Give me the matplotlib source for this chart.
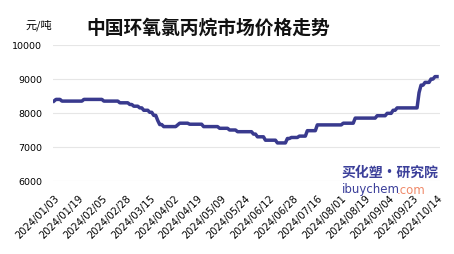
import numpy as np
import matplotlib.pyplot as plt
from matplotlib.text import Annotation

plt.rcParams['font.family'] = ['Noto Sans CJK SC', 'DejaVu Sans']

# daily price, yuan/ton
prices = [
    8350, 8400, 8400, 8400, 8350, 8350, 8350, 8350, 8350, 8350,
    8350, 8350, 8350, 8350, 8350, 8400, 8400, 8400, 8400, 8400,
    8400, 8400, 8400, 8400, 8400, 8350, 8350, 8350, 8350, 8350,
    8350, 8350, 8350, 8300, 8300, 8300, 8300, 8300, 8250, 8250,
    8200, 8200, 8200, 8150, 8150, 8080, 8080, 8080, 8020, 8020,
    7930, 7930, 7780, 7660, 7660, 7600, 7600, 7600, 7600, 7600,
    7600, 7600, 7650, 7700, 7700, 7700, 7700, 7700, 7670, 7670,
    7670, 7670, 7670, 7670, 7670, 7600, 7600, 7600, 7600, 7600,
    7600, 7600, 7600, 7550, 7550, 7550, 7550, 7550, 7500, 7500,
    7500, 7500, 7450, 7450, 7450, 7450, 7450, 7450, 7450, 7450,
    7380, 7380, 7300, 7300, 7300, 7300, 7200, 7200, 7200, 7200,
    7200, 7200, 7120, 7120, 7120, 7120, 7120, 7250, 7250, 7280,
    7280, 7280, 7280, 7320, 7320, 7320, 7320, 7480, 7480, 7480,
    7480, 7480, 7650, 7650, 7650, 7650, 7650, 7650, 7650, 7650,
    7650, 7650, 7650, 7650, 7650, 7700, 7700, 7700, 7700, 7700,
    7700, 7850, 7850, 7850, 7850, 7850, 7850, 7850, 7850, 7850,
    7850, 7850, 7920, 7920, 7920, 7920, 7920, 7990, 7990, 7990,
    8080, 8080, 8150, 8150, 8150, 8150, 8150, 8150, 8150, 8150,
    8150, 8150, 8150, 8600, 8820, 8820, 8900, 8900, 8900, 9000,
    9000, 9070, 9070,
]

date_labels = [
    "2024/01/03", "2024/01/19", "2024/02/05", "2024/02/28", "2024/03/15",
    "2024/04/02", "2024/04/19", "2024/05/09", "2024/05/24", "2024/06/12",
    "2024/06/28", "2024/07/16", "2024/08/01", "2024/08/19", "2024/09/04",
    "2024/09/23", "2024/10/14",
]

y_ticks = [6000, 7000, 8000, 9000, 10000]

fig = plt.figure(figsize=(4.54, 2.55), dpi=100)
ax = fig.add_axes([53 / 454, 1 - 182 / 255, 387 / 454, 136 / 255])

x = np.arange(len(prices))
ax.plot(x, prices, color="#393a8e", lw=2.5, solid_joinstyle="round")

ax.set_xlim(-0.5, len(prices) - 1 + 1.5)
ax.set_ylim(6000, 10000)
ax.set_yticks(y_ticks)
ax.set_yticklabels([str(v) for v in y_ticks], fontsize=6.8, family="DejaVu Sans")
ax.yaxis.grid(True, color="#e6e6e6", lw=0.8)
ax.set_axisbelow(True)

ax.set_xticks(np.arange(0, len(prices), 12))
ax.set_xticklabels(date_labels, rotation=45, ha="right", rotation_mode="anchor",
                   fontsize=7.1, family="DejaVu Sans")
ax.tick_params(axis="both", length=0)
ax.tick_params(axis="x", pad=8)
ax.tick_params(axis="y", pad=8)

for s in ax.spines.values():
    s.set_visible(False)

fig.text(25 / 454, 1 - 25 / 255, "元/吨", fontsize=8, va="center", ha="left")
fig.text(208 / 454, 1 - 28 / 255, "中国环氧氯丙烷市场价格走势", fontsize=13.5,
         fontweight="bold", va="center", ha="center", color="#111111")

# watermark
fig.text(438 / 454, 1 - 173 / 255, "买化塑·研究院", fontsize=10, fontweight="bold",
         style="italic", color="#3b3f9a", ha="right", va="center")
t1 = fig.text(342 / 454, 1 - 190 / 255, "ibuychem", fontsize=8.5, color="#3b3f9a",
              ha="left", va="center", family="DejaVu Sans")
fig.add_artist(Annotation(".com", xy=(1, 0.5), xycoords=t1,
                          xytext=(-2, 0), textcoords="offset points",
                          va="center", ha="left", fontsize=8.5,
                          color="#f08a6a", family="DejaVu Sans"))

fig.savefig("out.png", dpi=100)
